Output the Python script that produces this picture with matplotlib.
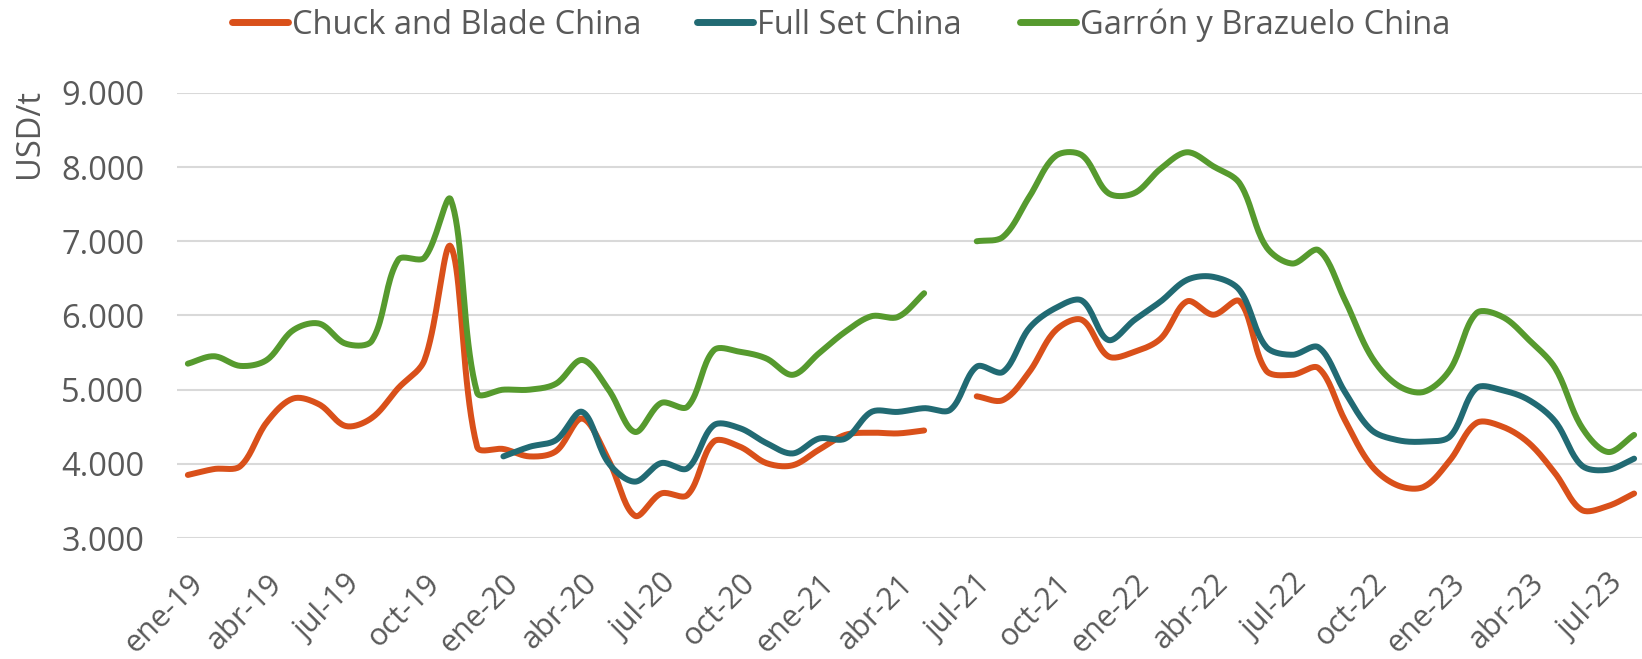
import numpy as np
import matplotlib
matplotlib.use("Agg")
import matplotlib.pyplot as plt
from matplotlib.lines import Line2D

# Monthly export prices, ene-19 .. ago-23 (NaN = no quote that month)
MONTHS = ["ene", "feb", "mar", "abr", "may", "jun",
          "jul", "ago", "sep", "oct", "nov", "dic"]
nan = np.nan

chuck_blade = [3850, 3930, 3970, 4560, 4880, 4800, 4510, 4620, 5020, 5400,
               6930, 4230, 4200, 4100, 4170, 4610, 4050, 3300, 3600, 3580,
               4300, 4230, 4010, 3980, 4190, 4390, 4420, 4410, 4450, nan,
               4910, 4860, 5240, 5800, 5940, 5450, 5510, 5690, 6190, 6010,
               6190, 5260, 5200, 5290, 4590, 3980, 3710, 3690, 4050, 4550,
               4500, 4280, 3870, 3380, 3430, 3600]

full_set = [nan] * 12 + [
    4100, 4230, 4320, 4700, 4010, 3760, 4010, 3940, 4520, 4480,
    4280, 4140, 4340, 4340, 4700, 4700, 4750, 4730, 5310, 5240,
    5830, 6100, 6200, 5670, 5940, 6190, 6480, 6520, 6340, 5580,
    5470, 5570, 4970, 4460, 4320, 4300, 4370, 5020, 4990, 4860,
    4570, 3980, 3920, 4070]

garron = [5350, 5450, 5320, 5400, 5800, 5890, 5620, 5660, 6750, 6780,
          7560, 4960, 5000, 5000, 5080, 5400, 5000, 4430, 4820, 4770,
          5530, 5510, 5420, 5200, 5490, 5780, 5990, 5980, 6300, nan,
          7000, 7060, 7600, 8150, 8160, 7650, 7650, 7980, 8200, 8010,
          7780, 6930, 6700, 6880, 6210, 5450, 5060, 4970, 5270, 6030,
          5980, 5670, 5290, 4500, 4160, 4390]

labels = [f"{MONTHS[i % 12]}-{19 + i // 12}" for i in range(len(garron))]

SERIES = [
    ("Chuck and Blade China", chuck_blade, "#D9501A"),
    ("Full Set China", full_set, "#216A73"),
    ("Garrón y Brazuelo China", garron, "#569A2E"),
]
# left edge of each legend entry, in figure pixels
LEGEND_X = [232, 697, 1020]

TEXT = "#595959"
FS = 23.5
plt.rcParams["font.family"] = ["Open Sans", "DejaVu Sans"]

# rough pixel size of one month / one USD, used to weight the curve handles
PX_X, PX_Y = 26.3, 0.0742


# Cubic Bezier through each run of valid points, handles scaled by the
# neighbouring segment lengths so steep drops don't overshoot much
def smooth_segments(y, steps=20):
    y = np.asarray(y, dtype=float)
    x = np.arange(len(y), dtype=float)
    ok = ~np.isnan(y)
    runs, start = [], None
    for i, v in enumerate(ok):
        if v and start is None:
            start = i
        if (not v or i == len(y) - 1) and start is not None:
            runs.append((start, i + 1 if v else i))
            start = None
    out = []
    t = np.linspace(0, 1, steps, endpoint=False)[:, None]
    for a, b in runs:
        P = np.column_stack([x[a:b], y[a:b]])
        n = len(P)
        if n < 2:
            out.append((P[:, 0], P[:, 1]))
            continue

        def dist(i, j):
            d = (P[j] - P[i]) * [PX_X, PX_Y]
            return np.hypot(*d)

        pts = []
        for k in range(n - 1):
            p0 = P[k - 1] if k > 0 else P[k]
            p1, p2 = P[k], P[k + 1]
            p3 = P[k + 2] if k + 2 < n else P[k + 1]
            d01 = dist(k - 1, k) if k > 0 else 0.0
            d12 = dist(k, k + 1)
            d23 = dist(k + 1, k + 2) if k + 2 < n else 0.0
            c1 = p1 + (p2 - p0) * d12 / (d01 + d12) / 3
            c2 = p2 - (p3 - p1) * d12 / (d12 + d23) / 3
            seg = ((1 - t) ** 3 * p1 + 3 * (1 - t) ** 2 * t * c1
                   + 3 * (1 - t) * t ** 2 * c2 + t ** 3 * p2)
            pts.append(seg)
        pts.append(P[-1:])
        pts = np.vstack(pts)
        out.append((pts[:, 0], pts[:, 1]))
    return out


fig = plt.figure(figsize=(16.42, 6.59), dpi=100)
ax = fig.add_axes([0.108, 0.1836, 0.892, 0.6754])

for (name, values, color), lx in zip(SERIES, LEGEND_X):
    for sx, sy in smooth_segments(values):
        ax.plot(sx, sy, color=color, lw=4.3, solid_capstyle="round")
    handle = Line2D([], [], color=color, lw=5, solid_capstyle="round")
    leg = fig.legend(handles=[handle], labels=[name], loc="center left",
                     bbox_to_anchor=(lx / 1642, 1 - 25 / 659), frameon=False,
                     fontsize=FS, handlelength=1.72, handletextpad=0.12,
                     borderpad=0, borderaxespad=0)
    leg.get_texts()[0].set_color(TEXT)

ax.set_ylim(3000, 9000)
ax.set_xlim(-0.4, 55.3)
ax.set_yticks(range(3000, 9001, 1000))
ax.set_yticklabels([f"{v:,}".replace(",", ".") for v in range(3000, 9001, 1000)])
ax.set_xticks(range(0, len(labels), 3))
ax.set_xticklabels(labels[::3], rotation=45, ha="right", rotation_mode="anchor")
ax.tick_params(axis="both", length=0, colors=TEXT, labelsize=FS)
ax.tick_params(axis="x", pad=22, labelsize=22)
ax.tick_params(axis="y", pad=24)
ax.grid(axis="y", color="#D9D9D9", lw=1.5)
ax.set_axisbelow(True)
for s in ax.spines.values():
    s.set_visible(False)

fig.text(0.018, 1 - 133 / 659, "USD/t", rotation=90, ha="center", va="center",
         color=TEXT, fontsize=FS)

fig.savefig("out.png", dpi=100)
